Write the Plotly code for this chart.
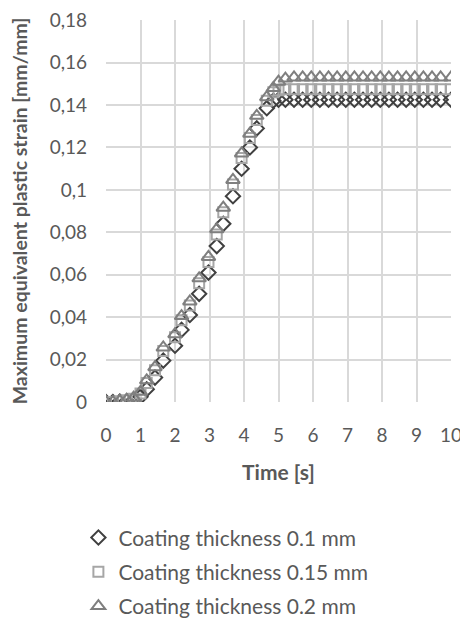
import plotly.graph_objects as go

time_s = [0, 0.2, 0.4, 0.6, 0.8, 1.0, 1.18, 1.42, 1.66, 2.0, 2.19, 2.43, 2.7, 2.97,
          3.21, 3.4, 3.68, 3.93, 4.17, 4.37, 4.66, 4.85, 5.0, 5.2, 5.45, 5.7, 5.95,
          6.2, 6.45, 6.7, 6.95, 7.2, 7.45, 7.7, 7.95, 8.2, 8.45, 8.7, 8.95, 9.2,
          9.45, 9.7, 10.0]

strain_01 = [0, 0, 0.0002, 0.0005, 0.001, 0.0025, 0.006, 0.0115, 0.0195, 0.0265,
             0.034, 0.041, 0.051, 0.061, 0.0735, 0.084, 0.097, 0.11, 0.12, 0.129,
             0.1385, 0.142, 0.1425, 0.1425, 0.1425, 0.1425, 0.1425, 0.1425, 0.1425,
             0.1425, 0.1425, 0.1425, 0.1425, 0.1425, 0.1425, 0.1425, 0.1425, 0.1425,
             0.1425, 0.1425, 0.1425, 0.1425, 0.1425]

strain_015 = [0, 0, 0.0003, 0.0008, 0.0015, 0.004, 0.009, 0.015, 0.024, 0.0305,
              0.0385, 0.0455, 0.056, 0.066, 0.079, 0.0895, 0.1025, 0.115, 0.1245,
              0.133, 0.142, 0.146, 0.147, 0.1475, 0.1475, 0.1475, 0.1475, 0.1475,
              0.1475, 0.1475, 0.1475, 0.1475, 0.1475, 0.1475, 0.1475, 0.1475, 0.1475,
              0.1475, 0.1475, 0.1475, 0.1475, 0.1475, 0.1475]

strain_02 = [0, 0, 0.0005, 0.001, 0.002, 0.0048, 0.0102, 0.0164, 0.0257, 0.032,
             0.0405, 0.0474, 0.0583, 0.0684, 0.0815, 0.0916, 0.1047, 0.1172, 0.1265,
             0.1349, 0.1437, 0.148, 0.151, 0.1525, 0.153, 0.153, 0.153, 0.153, 0.153,
             0.153, 0.153, 0.153, 0.153, 0.153, 0.153, 0.153, 0.153, 0.153, 0.153,
             0.153, 0.153, 0.153, 0.153]

series_names = ["Coating thickness 0.1 mm", "Coating thickness 0.15 mm",
                "Coating thickness 0.2 mm"]

y_tick_vals = [0, 0.02, 0.04, 0.06, 0.08, 0.1, 0.12, 0.14, 0.16, 0.18]
y_tick_text = ["0", "0,02", "0,04", "0,06", "0,08", "0,1", "0,12", "0,14", "0,16", "0,18"]
x_tick_vals = [0, 1, 2, 3, 4, 5, 6, 7, 8, 9, 10]

FONT = "Lato"
TXT = "#595959"

fig = go.Figure()
styles = [
    (strain_01, "diamond-open", "#404040", 11),
    (strain_015, "square-open", "#a6a6a6", 10),
    (strain_02, "triangle-up-open", "#7f7f7f", 12),
]
for name, (vals, sym, col, sz) in zip(series_names, styles):
    fig.add_trace(go.Scatter(
        x=time_s, y=vals, mode="markers", name=name, legendgroup=name,
        marker=dict(symbol=sym, size=sz, color=col, line=dict(width=2, color=col)),
    ))

# page body has an 8px default margin, so the figure is sized to fit the window
fig.update_layout(
    width=460, height=622,
    margin=dict(l=98, r=17, t=12, b=228, autoexpand=False),
    paper_bgcolor="white", plot_bgcolor="white",
    font=dict(family=FONT, color=TXT, size=18),
    showlegend=True,
    legend=dict(
        x=-0.08, y=-0.302, xanchor="left", yanchor="top",
        orientation="v", tracegroupgap=4, itemwidth=30,
        font=dict(family=FONT, size=21, color=TXT),
        bgcolor="rgba(0,0,0,0)",
    ),
    xaxis=dict(
        range=[0, 10], tickvals=x_tick_vals, showgrid=True,
        gridcolor="#d9d9d9", gridwidth=1.5, zeroline=False, showline=False,
        ticks="", ticklabelstandoff=20, ticklabeloverflow="allow",
        tickfont=dict(family=FONT, size=19, color=TXT),
        title=dict(text="<b>Time [s]</b>", font=dict(family=FONT, size=21, color=TXT),
                   standoff=20),
        automargin=False,
    ),
    yaxis=dict(
        range=[0, 0.1801], tickvals=y_tick_vals, ticktext=y_tick_text, showgrid=True,
        gridcolor="#d9d9d9", gridwidth=1.5, zeroline=False, showline=False,
        ticks="", ticklabelstandoff=18, ticklabeloverflow="allow",
        tickfont=dict(family=FONT, size=19, color=TXT),
        title=dict(text="<b>Maximum equivalent plastic strain [mm/mm]</b>",
                   font=dict(family=FONT, size=19.5, color=TXT), standoff=20),
        automargin=False,
    ),
)

fig.write_html("out.html")
